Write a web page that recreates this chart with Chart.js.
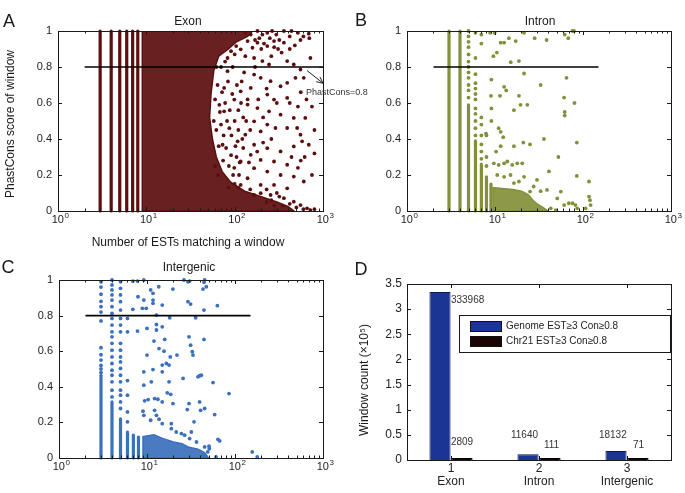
<!DOCTYPE html>
<html>
<head>
<meta charset="utf-8">
<script src="https://cdn.jsdelivr.net/npm/chart.js@4.4.1/dist/chart.umd.min.js"></script>
<style>
  html, body { margin: 0; padding: 0; background: #fff; }
  #wrap { position: relative; width: 685px; height: 493px; overflow: hidden; background: #fff; }
  canvas { position: absolute; }
</style>
</head>
<body>
<div id="wrap">
  <canvas id="chartA" width="385" height="250" style="left:0px;top:0px"></canvas>
  <canvas id="chartB" width="343" height="250" style="left:342px;top:0px"></canvas>
  <canvas id="chartC" width="342" height="243" style="left:0px;top:250px"></canvas>
  <canvas id="chartD" width="343" height="243" style="left:342px;top:250px"></canvas>
</div>
<script>
const FAMILY = '"Liberation Sans", Arial, Helvetica, sans-serif';
const INK = '#1a1a1a';

// shared axes
const logTicks = [1, 10, 100, 1000];
const cutoff = 0.8;

// ---- A: Exon ----
const exonColumnX = [3, 4, 5, 6, 7, 8];
const exonColumnTop = [1, 1, 1, 1, 1, 1];
const exonCore = [[9, 0], [9, 1], [160, 1], [140, 0.97], [105, 0.94], [85, 0.9], [66, 0.86], [58, 0.78],
  [54, 0.65], [52, 0.52], [56, 0.4], [62, 0.3], [72, 0.22], [90, 0.16], [130, 0.11], [200, 0.08],
  [300, 0.05], [400, 0.025], [470, 0], [9, 0]];
const exonPoints = [[132, 0.99], [152, 0.98], [181, 1.0], [206, 0.98], [234, 0.99], [265, 1.0], [296, 0.98],
  [361, 1.0], [440, 1.0], [556, 0.95], [690, 0.985], [700, 0.96], [720, 0.85], [361, 0.935], [279, 0.944],
  [234, 0.916], [181, 0.935], [159, 0.907], [140, 0.944], [117, 0.898], [104, 0.916], [91, 0.888], [83, 0.85],
  [132, 0.86], [166, 0.85], [206, 0.833], [245, 0.814], [393, 0.833], [467, 0.814], [556, 0.786],
  [166, 0.758], [197, 0.74], [255, 0.721], [331, 0.693], [393, 0.712], [488, 0.74], [606, 0.74], [152, 0.684],
  [234, 0.647], [279, 0.619], [393, 0.628], [117, 0.665], [99, 0.619], [140, 0.591], [181, 0.572], [245, 0.554],
  [331, 0.535], [467, 0.517], [630, 0.517], [166, 0.498], [234, 0.48], [290, 0.461], [393, 0.461], [556, 0.424],
  [690, 0.368], [197, 0.442], [132, 0.424], [108, 0.387], [166, 0.368], [234, 0.349], [331, 0.331], [467, 0.359],
  [152, 0.312], [197, 0.284], [279, 0.275], [393, 0.257], [117, 0.275], [166, 0.238], [234, 0.219], [331, 0.2],
  [467, 0.191], [606, 0.164], [140, 0.182], [197, 0.145], [279, 0.145], [393, 0.126], [197, 0.099], [255, 0.089],
  [361, 0.071], [467, 0.052], [556, 0.033], [660, 0.015], [117, 0.145], [166, 0.089], [83, 0.777], [76, 0.554],
  [87, 0.46], [73, 0.368], [91, 0.31], [99, 0.24], [112, 0.2], [76, 0.684], [67, 0.59], [510, 0.461], [580, 0.387],
  [125, 0.52], [150, 0.45], [110, 0.56], [140, 0.62], [120, 0.72], [185, 0.62], [210, 0.52], [125, 0.35],
  [145, 0.27], [180, 0.33], [105, 0.3], [210, 0.38], [260, 0.4], [300, 0.6], [230, 0.68], [170, 0.8], [200, 0.9],
  [260, 0.86], [310, 0.9], [150, 0.12], [230, 0.12], [300, 0.1], [600, 0.01], [720, 0.005], [800, 0.01],
  [58, 0.5], [60, 0.62], [62, 0.45], [64, 0.7], [66, 0.36], [68, 0.55], [70, 0.48], [72, 0.66], [74, 0.28],
  [75, 0.42], [78, 0.6], [80, 0.35], [82, 0.5], [84, 0.72], [86, 0.25], [88, 0.56], [92, 0.42], [94, 0.65],
  [96, 0.2], [100, 0.5], [102, 0.36], [106, 0.7], [110, 0.45], [114, 0.27], [118, 0.6], [122, 0.4], [128, 0.77],
  [135, 0.5], [62, 0.8], [70, 0.8], [78, 0.83], [95, 0.8], [100, 0.87], [60, 0.25], [65, 0.2], [85, 0.13],
  [100, 0.15], [110, 0.13], [170, 0.95], [190, 0.96], [215, 0.93], [250, 0.96], [280, 0.91], [320, 0.95],
  [340, 0.88], [420, 0.97], [480, 0.92], [520, 0.99], [600, 0.97], [420, 0.9], [350, 0.03], [420, 0.04],
  [500, 0.02], [260, 0.06], [320, 0.08], [280, 0.03], [230, 0.05], [420, 0.6], [520, 0.58], [560, 0.66],
  [650, 0.62], [440, 0.3], [520, 0.24], [560, 0.28], [620, 0.3], [750, 0.2], [800, 0.32], [750, 0.58], [800, 0.45]];
const exonCutoffX = [2, 1000];
const exonArrowFrom = [660, 0.78];
const exonArrowTo = [1000, 0.71];

// ---- B: Intron ----
const intronColumnX = [3, 4, 5, 6, 7, 8, 9];
const intronColumnTop = [1, 1, 0.59, 0.39, 0.26, 0.19, 0.15];
const intronCore = [[9.5, 0], [9.5, 0.13], [12, 0.125], [16, 0.12], [20, 0.11], [24, 0.09], [27, 0.06],
  [30, 0.04], [35, 0.02], [40, 0], [9.5, 0]];
const intronPoints = [[5, 1.0], [5, 0.97], [5, 0.94], [5, 0.91], [5, 0.87], [5, 0.83], [5, 0.8], [5, 0.77],
  [5, 0.74], [5, 0.7], [5, 0.67], [5, 0.63], [6, 0.99], [6, 0.85], [6, 0.76], [6, 0.71], [6, 0.68], [6, 0.65],
  [6, 0.62], [6, 0.57], [6, 0.54], [6, 0.5], [6, 0.46], [6, 0.42], [7, 0.98], [7, 0.93], [7, 0.52], [7, 0.48],
  [7, 0.42], [7, 0.37], [7, 0.33], [7, 0.29], [8, 0.42], [8, 0.3], [8, 0.25],
  [8.8, 0.99], [9.9, 0.99], [11.6, 0.935], [12.7, 0.935], [14.4, 0.96], [17.2, 0.944], [21.4, 0.99], [28.2, 0.96],
  [38.6, 0.95], [62, 0.98], [68, 0.96], [76, 1.0], [79, 1.0], [9.6, 0.86], [10.5, 0.88], [15.1, 0.827],
  [18.7, 0.833], [21.4, 0.764], [9.1, 0.73], [12.7, 0.69], [13.4, 0.67], [9, 0.64], [11.4, 0.64], [18.7, 0.64],
  [33, 0.7], [65, 0.74], [9.1, 0.57], [16.4, 0.56], [19.5, 0.59], [23.3, 0.59], [61, 0.63], [80, 0.6], [62, 0.55],
  [62, 0.53], [9.1, 0.5], [11, 0.46], [11.6, 0.44], [7.9, 0.43], [12.4, 0.41], [10.3, 0.33], [11.6, 0.36],
  [16.4, 0.36], [21, 0.38], [25, 0.37], [36, 0.4], [85, 0.38], [52.5, 0.3], [9.7, 0.265], [11, 0.256],
  [12.7, 0.265], [13.8, 0.275], [15.7, 0.256], [17.9, 0.265], [20.4, 0.265], [41, 0.22], [85, 0.195],
  [117, 0.164], [30, 0.173], [21.4, 0.19], [10.6, 0.2], [12.7, 0.19], [15, 0.2], [16.4, 0.155], [18.7, 0.164],
  [33, 0.11], [39, 0.117], [51, 0.07], [56, 0.108], [69, 0.043], [76, 0.043], [82, 0.033], [117, 0.08],
  [120, 0.06], [122, 0.033], [61, 0.033], [25, 0.108], [27.5, 0.136], [43, 0.015], [49, 0.005], [86, 0.015],
  [107, 0.015]];
const intronCutoffX = [2, 150];

// ---- C: Intergenic ----
const interColumnX = [3, 4, 5, 6, 7, 8];
const interColumnTop = [0.465, 0.315, 0.22, 0.146, 0.128, 0.118];
const interCore = [[9, 0], [9, 0.12], [12, 0.13], [15, 0.11], [20, 0.09], [25, 0.08], [30, 0.06], [38, 0.05],
  [45, 0.03], [50, 0], [9, 0]];
const interPoints = [[3, 0.48], [3, 0.5], [3, 0.52], [3, 0.55], [3, 0.58], [3, 0.62], [3, 0.77], [3, 0.82],
  [3, 0.85], [3, 0.88], [3, 0.92], [3, 0.96], [3, 0.99],
  [4, 1.0], [4, 0.972], [4, 0.944], [4, 0.916], [4, 0.887], [4, 0.85], [4, 0.812], [4, 0.784], [4, 0.747],
  [4, 0.709], [4, 0.681], [4, 0.644], [4, 0.606], [4, 0.568], [4, 0.531], [4, 0.493], [4, 0.465], [4, 0.428],
  [4, 0.381], [4, 0.343],
  [5, 0.99], [5, 0.953], [5, 0.916], [5, 0.878], [5, 0.831], [5, 0.784], [5, 0.747], [5, 0.709], [5, 0.644],
  [5, 0.606], [5, 0.568], [5, 0.54], [5, 0.503], [5, 0.465], [5, 0.428], [5, 0.381], [5, 0.353], [5, 0.315],
  [5, 0.278], [6, 0.784], [6, 0.709], [6, 0.435], [6, 0.353], [6, 0.259], [6, 0.203],
  [6.9, 0.994], [7.8, 0.994], [9.2, 1.0], [7.9, 0.906], [9.2, 0.887], [9.8, 0.841], [8.85, 0.841], [6.9, 0.835],
  [7.8, 0.713], [10, 0.728], [11, 0.944], [11.7, 0.925], [11.7, 0.887], [11.7, 0.869], [12.8, 0.803],
  [12.8, 0.75], [12.8, 0.719], [13.6, 0.962], [14.9, 0.859], [14.9, 0.737], [18.1, 0.788], [19.7, 0.949],
  [26.3, 1.0], [29.2, 0.99], [30.5, 0.994], [29.2, 0.878], [31.3, 0.865], [35.7, 0.788], [44.4, 0.987],
  [45.2, 1.0], [43.3, 0.949], [47.2, 0.962], [44.4, 0.831], [63, 0.856], [12, 0.657], [15.9, 0.666],
  [13.7, 0.615], [15.6, 0.6], [10, 0.578], [18.4, 0.568], [21.9, 0.578], [16.6, 0.531], [14.9, 0.522],
  [17.8, 0.522], [11.7, 0.497], [9.2, 0.484], [14.9, 0.484], [30, 0.681], [31.3, 0.634], [32.7, 0.597],
  [33.3, 0.578], [44.4, 0.666], [38, 0.456], [39.6, 0.462], [41.4, 0.465], [25.7, 0.447], [17.8, 0.428],
  [9.2, 0.409], [11.2, 0.428], [56.3, 0.424], [85.5, 0.362], [17, 0.366], [18.6, 0.358], [9.4, 0.321],
  [10.3, 0.328], [12.2, 0.334], [13.3, 0.33], [14.9, 0.315], [19.7, 0.306], [30, 0.306], [39.6, 0.315],
  [40.7, 0.268], [45.2, 0.278], [28.7, 0.272], [9, 0.263], [9.2, 0.24], [12.2, 0.268], [12.8, 0.24], [11, 0.212],
  [13.7, 0.218], [14.9, 0.193], [18.9, 0.193], [18.9, 0.165], [34.2, 0.203], [58.7, 0.244], [31.9, 0.146],
  [50.7, 0.066], [64, 0.105], [67, 0.096], [157, 0.034], [179, 0.006], [43.3, 0.015], [47, 0.006], [61, 0.006],
  [21.5, 0.146], [24.6, 0.137], [26.8, 0.128], [30.5, 0.109], [36.5, 0.09], [45.2, 0.062], [51, 0.052],
  [49, 0.034]];
const interCutoffX = [2, 150];

// ---- D: window counts ----
const regionNames = ['Exon', 'Intron', 'Intergenic'];
const regionIndex = ['1', '2', '3'];
const genomeCounts = [333968, 11640, 18132];
const chr21Counts = [2809, 111, 71];
const seriesNames = ['Genome EST\u22653 Con\u22650.8', 'Chr21 EST\u22653 Con\u22650.8'];
const countScale = 1e5;

// ---------- plugins ----------
function seg(ctx, x1, y1, x2, y2) {
  ctx.beginPath(); ctx.moveTo(x1, y1); ctx.lineTo(x2, y2); ctx.stroke();
}

const decor = {
  id: 'decor',
  afterDraw(chart, args, o) {
    const { ctx, chartArea: a } = chart;
    const xs = chart.scales.x, ys = chart.scales.y;
    ctx.save();
    ctx.strokeStyle = INK;
    ctx.lineWidth = 1;
    ys.ticks.forEach(t => {
      const py = Math.round(ys.getPixelForValue(t.value)) + 0.5;
      seg(ctx, a.left, py, a.left + 4, py);
      seg(ctx, a.right - 4, py, a.right, py);
    });
    if (xs.type === 'logarithmic') {
      logTicks.forEach(v => {
        for (let m = 1; m < 10; m++) {
          const val = v * m;
          if (val > xs.max) break;
          const px = Math.round(xs.getPixelForValue(val)) + 0.5;
          const len = m === 1 ? 4 : 2.5;
          seg(ctx, px, a.bottom, px, a.bottom - len);
          seg(ctx, px, a.top, px, a.top + len);
        }
      });
      ctx.fillStyle = '#222';
      ctx.textBaseline = 'middle';
      ctx.textAlign = 'left';
      logTicks.forEach(v => {
        const px = xs.getPixelForValue(v);
        const exp = String(Math.round(Math.log10(v)));
        ctx.font = '11px ' + FAMILY;
        const w1 = ctx.measureText('10').width;
        ctx.font = '8px ' + FAMILY;
        const w2 = ctx.measureText(exp).width;
        const left = px - (w1 + w2) / 2 + 2;
        const cy = a.bottom + 9;
        ctx.font = '11px ' + FAMILY;
        ctx.fillText('10', left, cy);
        ctx.font = '8px ' + FAMILY;
        ctx.fillText(exp, left + w1 + 0.5, cy - 4);
      });
    } else {
      xs.ticks.forEach((t, i) => {
        const px = Math.round(xs.getPixelForValue(i)) + 0.5;
        seg(ctx, px, a.bottom, px, a.bottom - 4);
        seg(ctx, px, a.top, px, a.top + 4);
      });
    }
    ctx.strokeRect(Math.round(a.left) + 0.5, Math.round(a.top) + 0.5,
      Math.round(a.right - a.left), Math.round(a.bottom - a.top));

    if (o.arrow) {
      const x1 = xs.getPixelForValue(o.arrow.from[0]), y1 = ys.getPixelForValue(o.arrow.from[1]);
      const x2 = xs.getPixelForValue(o.arrow.to[0]), y2 = ys.getPixelForValue(o.arrow.to[1]);
      ctx.strokeStyle = '#222';
      seg(ctx, x1, y1, x2, y2);
      const ang = Math.atan2(y2 - y1, x2 - x1);
      [0.45, -0.45].forEach(d => seg(ctx, x2, y2, x2 - 7 * Math.cos(ang + d), y2 - 7 * Math.sin(ang + d)));
      ctx.fillStyle = '#333';
      ctx.font = '9px ' + FAMILY;
      ctx.textAlign = 'left';
      ctx.textBaseline = 'middle';
      ctx.fillText(o.arrow.label, x2 - 17, y2 + 9);
    }

    (o.texts || []).forEach(t => {
      ctx.save();
      ctx.fillStyle = INK;
      ctx.font = t.size + 'px ' + FAMILY;
      ctx.textAlign = 'center';
      ctx.textBaseline = 'middle';
      ctx.translate(t.x, t.y);
      if (t.rot) ctx.rotate(t.rot);
      ctx.fillText(t.text, 0, 0);
      ctx.restore();
    });
    ctx.restore();
  }
};

const barNotes = {
  id: 'barNotes',
  afterDraw(chart, args, o) {
    const { ctx, chartArea: a } = chart;
    ctx.save();
    ctx.font = '10px ' + FAMILY;
    ctx.fillStyle = '#333';
    ctx.textBaseline = 'middle';
    ctx.textAlign = 'left';
    chart.data.datasets.forEach((ds, d) => {
      chart.getDatasetMeta(d).data.forEach((bar, i) => {
        const left = bar.x - bar.width / 2;
        const off = o.offsets[d][i];
        ctx.fillText(String(o.counts[d][i]), left + off[0], bar.y + off[1]);
      });
    });
    const bx = Math.round(a.left + 52), by = Math.round(a.top + 31);
    const bw = Math.round(a.right - 1 - bx), bh = 37;
    ctx.fillStyle = '#fff';
    ctx.fillRect(bx, by, bw, bh);
    ctx.strokeStyle = INK;
    ctx.lineWidth = 1;
    ctx.strokeRect(bx + 0.5, by + 0.5, bw, bh);
    chart.data.datasets.forEach((ds, d) => {
      const sy = by + 6 + d * 15;
      ctx.fillStyle = ds.backgroundColor;
      ctx.fillRect(bx + 11, sy, 32, 11);
      ctx.strokeStyle = '#111';
      ctx.strokeRect(bx + 11.5, sy + 0.5, 31, 10);
      ctx.fillStyle = '#222';
      ctx.fillText(ds.label, bx + 47, sy + 5.5);
    });
    ctx.restore();
  }
};

const pair = arr => arr.map(([x, y]) => ({ x, y }));
const tickLabel = v => String(+Number(v).toFixed(2));

function scatterPanel(id, p) {
  const datasets = [
    { data: p.cutoffX.map(x => ({ x, y: cutoff })), showLine: true, borderColor: '#000', borderWidth: 1.6, pointRadius: 0 },
    { data: pair(p.points), backgroundColor: p.color, pointRadius: 1.9, pointBorderWidth: 0, clip: false }
  ];
  p.columnX.forEach((x, i) => datasets.push({
    data: [{ x, y: 0 }, { x, y: p.columnTop[i] }], showLine: true, borderColor: p.color,
    borderWidth: 3.2, pointRadius: 0, borderCapStyle: 'round', clip: false
  }));
  datasets.push({
    data: pair(p.core), showLine: true, fill: 'shape', backgroundColor: p.coreColor,
    borderColor: p.color, borderWidth: 1.5, pointRadius: 0
  });
  return new Chart(document.getElementById(id), {
    type: 'scatter',
    data: { datasets },
    options: {
      responsive: false, animation: false, events: [],
      layout: { padding: { top: p.pad.top, right: p.pad.right, left: 0, bottom: 0 } },
      plugins: { legend: { display: false }, tooltip: { enabled: false },
        decor: { texts: p.texts, arrow: p.arrow } },
      scales: {
        x: { type: 'logarithmic', min: 1, max: 1000,
          grid: { display: false, drawTicks: false }, border: { display: false },
          ticks: { display: false }, afterFit: s => { s.height = p.xAxisH; } },
        y: { min: 0, max: 1,
          grid: { display: false, drawTicks: false }, border: { display: false },
          ticks: { stepSize: 0.2, padding: 6, color: '#222', font: { family: FAMILY, size: 11 }, callback: tickLabel },
          afterFit: s => { s.width = p.yAxisW; } }
      }
    },
    plugins: [decor]
  });
}

scatterPanel('chartA', {
  color: '#5c0f0f', coreColor: 'rgba(92,15,15,0.93)',
  columnX: exonColumnX, columnTop: exonColumnTop, core: exonCore,
  points: exonPoints, cutoffX: exonCutoffX,
  pad: { top: 31, right: 62 }, yAxisW: 58, xAxisH: 39,
  arrow: { from: exonArrowFrom, to: exonArrowTo, label: 'PhastCons=0.8' },
  texts: [
    { text: 'A', x: 9, y: 22, size: 18 },
    { text: 'Exon', x: 188, y: 22, size: 12 },
    { text: 'PhastCons score of window', x: 11, y: 124, size: 12, rot: -Math.PI / 2 },
    { text: 'Number of ESTs matching a window', x: 188, y: 243, size: 12 }
  ]
});

scatterPanel('chartB', {
  color: '#848f3a', coreColor: 'rgba(132,143,58,0.92)',
  columnX: intronColumnX, columnTop: intronColumnTop, core: intronCore,
  points: intronPoints, cutoffX: intronCutoffX,
  pad: { top: 31, right: 14 }, yAxisW: 65, xAxisH: 39,
  texts: [
    { text: 'B', x: 19, y: 21, size: 18 },
    { text: 'Intron', x: 198, y: 22, size: 12 }
  ]
});

scatterPanel('chartC', {
  color: '#3b70bd', coreColor: 'rgba(59,112,189,0.92)',
  columnX: interColumnX, columnTop: interColumnTop, core: interCore,
  points: interPoints, cutoffX: interCutoffX,
  pad: { top: 30, right: 19 }, yAxisW: 59, xAxisH: 35,
  texts: [
    { text: 'C', x: 8, y: 18, size: 18 },
    { text: 'Intergenic', x: 189, y: 18, size: 12 }
  ]
});

new Chart(document.getElementById('chartD'), {
  type: 'bar',
  data: {
    labels: regionNames.map((n, i) => [regionIndex[i], n]),
    datasets: [
      { label: seriesNames[0], data: genomeCounts.map(v => v / countScale),
        backgroundColor: '#1b3594', borderColor: '#0c1850', borderWidth: 1 },
      { label: seriesNames[1], data: chr21Counts.map(v => v / countScale),
        backgroundColor: '#1a0505', borderColor: '#000', borderWidth: 1, minBarLength: 2 }
    ]
  },
  options: {
    responsive: false, animation: false, events: [],
    categoryPercentage: 0.5, barPercentage: 0.96,
    layout: { padding: { top: 34, right: 14, left: 0, bottom: 0 } },
    plugins: {
      legend: { display: false }, tooltip: { enabled: false },
      decor: { texts: [
        { text: 'D', x: 19, y: 20, size: 18 },
        { text: 'Window count (\u00d710\u2075)', x: 23, y: 130, size: 12, rot: -Math.PI / 2 }
      ] },
      barNotes: {
        counts: [genomeCounts, chr21Counts],
        offsets: [[[21.5, 8], [-6.5, -19], [-6.5, -16]], [[-0.5, -16], [4.5, -13], [5.5, -13]]]
      }
    },
    scales: {
      x: { grid: { display: false, drawTicks: false }, border: { display: false },
        ticks: { padding: 2, color: '#222', maxRotation: 0, autoSkip: false,
          font: { family: FAMILY, size: 12, lineHeight: 1.1 } },
        afterFit: s => { s.height = 33; } },
      y: { min: 0, max: 3.5,
        grid: { display: false, drawTicks: false }, border: { display: false },
        ticks: { stepSize: 0.5, padding: 5, color: '#222', font: { family: FAMILY, size: 12 }, callback: tickLabel },
        afterFit: s => { s.width = 65; } }
    }
  },
  plugins: [decor, barNotes]
});
</script>
</body>
</html>
